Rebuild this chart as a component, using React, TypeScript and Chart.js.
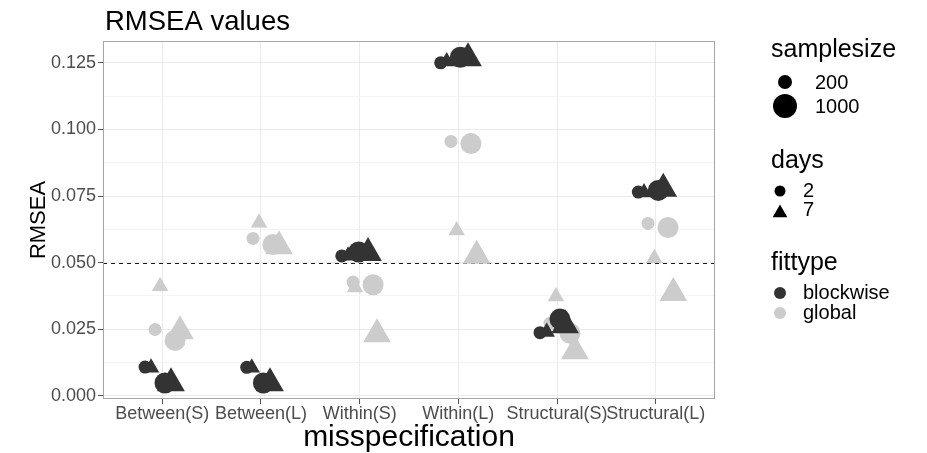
import React, { useEffect, useRef } from 'react';
import { Chart, registerables } from 'chart.js';

Chart.register(...registerables);

const FONT = '"Liberation Sans", Arial, Helvetica, sans-serif';

const categories = ['Between(S)', 'Between(L)', 'Within(S)', 'Within(L)', 'Structural(S)', 'Structural(L)'];
const yTickValues = [0, 0.0125, 0.025, 0.0375, 0.05, 0.0625, 0.075, 0.0875, 0.1, 0.1125, 0.125];
const cutoff = 0.05;

// RMSEA per misspecification, one array per fittype x samplesize x days
const blockwise200d2 = [0.0108, 0.0107, 0.0525, 0.125, 0.0237, 0.0765];
const blockwise200d7 = [0.0105, 0.0105, 0.0526, 0.1255, 0.024, 0.0763];
const blockwise1000d2 = [0.0048, 0.0048, 0.054, 0.1271, 0.0288, 0.0771];
const blockwise1000d7 = [0.0047, 0.0047, 0.0536, 0.1267, 0.0265, 0.0777];
const global200d2 = [0.0249, 0.0591, 0.0427, 0.0955, 0.0272, 0.0647];
const global200d7 = [0.0411, 0.065, 0.0407, 0.0621, 0.0373, 0.0516];
const global1000d2 = [0.0208, 0.0568, 0.0417, 0.0947, 0.0235, 0.0632];
const global1000d7 = [0.0242, 0.0561, 0.0231, 0.0526, 0.0167, 0.0386];

// horizontal jitter of each point, in category widths
const jitterB200d2 = [-0.174, -0.144, -0.181, -0.179, -0.173, -0.177];
const jitterB200d7 = [-0.113, -0.093, -0.117, -0.118, -0.105, -0.119];
const jitterB1000d2 = [0.028, 0.025, -0.01, 0.02, 0.029, 0.025];
const jitterB1000d7 = [0.089, 0.092, 0.085, 0.098, 0.081, 0.076];
const jitterG200d2 = [-0.073, -0.08, -0.067, -0.075, -0.072, -0.079];
const jitterG200d7 = [-0.022, -0.019, -0.047, -0.017, -0.011, -0.015];
const jitterG1000d2 = [0.13, 0.122, 0.136, 0.127, 0.131, 0.124];
const jitterG1000d7 = [0.18, 0.183, 0.176, 0.185, 0.181, 0.178];

type Fit = 'blockwise' | 'global';
type Series = { fit: Fit; samplesize: number; days: number; values: number[]; jitter: number[] };

const series: Series[] = [
  { fit: 'blockwise', samplesize: 200, days: 2, values: blockwise200d2, jitter: jitterB200d2 },
  { fit: 'blockwise', samplesize: 200, days: 7, values: blockwise200d7, jitter: jitterB200d7 },
  { fit: 'blockwise', samplesize: 1000, days: 2, values: blockwise1000d2, jitter: jitterB1000d2 },
  { fit: 'blockwise', samplesize: 1000, days: 7, values: blockwise1000d7, jitter: jitterB1000d7 },
  { fit: 'global', samplesize: 200, days: 2, values: global200d2, jitter: jitterG200d2 },
  { fit: 'global', samplesize: 200, days: 7, values: global200d7, jitter: jitterG200d7 },
  { fit: 'global', samplesize: 1000, days: 2, values: global1000d2, jitter: jitterG1000d2 },
  { fit: 'global', samplesize: 1000, days: 7, values: global1000d7, jitter: jitterG1000d7 },
];

const fitColor: Record<Fit, string> = { blockwise: '#333333', global: '#CCCCCC' };

function markerRadius(samplesize: number, days: number) {
  const big = samplesize === 1000;
  if (days === 7) return big ? 16 : 9.5;
  return big ? 10.5 : 6.5;
}

function drawTriangle(ctx: CanvasRenderingContext2D, x: number, y: number, r: number) {
  ctx.beginPath();
  ctx.moveTo(x, y - r);
  ctx.lineTo(x + (r * Math.sqrt(3)) / 2, y + r / 2);
  ctx.lineTo(x - (r * Math.sqrt(3)) / 2, y + r / 2);
  ctx.closePath();
  ctx.fill();
}

function drawCircle(ctx: CanvasRenderingContext2D, x: number, y: number, r: number) {
  ctx.beginPath();
  ctx.arc(x, y, r, 0, Math.PI * 2);
  ctx.fill();
}

const decorations = {
  id: 'decorations',
  beforeDatasetsDraw(chart: any) {
    const { ctx, chartArea, scales } = chart;
    const y = Math.round(scales.y.getPixelForValue(cutoff)) + 0.5;
    ctx.save();
    ctx.strokeStyle = '#1A1A1A';
    ctx.lineWidth = 1;
    ctx.setLineDash([4, 4]);
    ctx.beginPath();
    ctx.moveTo(chartArea.left, y);
    ctx.lineTo(chartArea.right, y);
    ctx.stroke();
    ctx.restore();
  },
  afterDatasetsDraw(chart: any) {
    const { ctx, chartArea } = chart;
    ctx.save();
    ctx.strokeStyle = '#A6A6A6';
    ctx.lineWidth = 1;
    ctx.strokeRect(
      Math.round(chartArea.left) + 0.5,
      Math.round(chartArea.top) + 0.5,
      Math.round(chartArea.right - chartArea.left) - 1,
      Math.round(chartArea.bottom - chartArea.top) - 1
    );
    ctx.restore();
  },
  afterDraw(chart: any) {
    const { ctx, chartArea } = chart;
    ctx.save();
    ctx.fillStyle = '#000000';
    ctx.textBaseline = 'alphabetic';

    // plot title
    ctx.textAlign = 'left';
    ctx.font = `27.5px ${FONT}`;
    ctx.fillText('RMSEA values', 105, 30);

    // x axis title
    ctx.textAlign = 'center';
    ctx.font = `30px ${FONT}`;
    ctx.fillText('misspecification', (chartArea.left + chartArea.right) / 2, 446);

    // y axis title
    ctx.save();
    ctx.translate(45, (chartArea.top + chartArea.bottom) / 2);
    ctx.rotate(-Math.PI / 2);
    ctx.font = `22px ${FONT}`;
    ctx.fillText('RMSEA', 0, 0);
    ctx.restore();

    // legend
    const lx = 771;
    ctx.textAlign = 'left';
    ctx.font = `25px ${FONT}`;
    ctx.fillText('samplesize', lx, 57);
    ctx.fillText('days', lx, 168);
    ctx.fillText('fittype', lx, 270);

    ctx.font = `20px ${FONT}`;
    ctx.textBaseline = 'middle';
    ctx.fillStyle = '#000000';
    drawCircle(ctx, 785, 82, 7);
    ctx.fillText('200', 815, 83);
    drawCircle(ctx, 785, 106, 12);
    ctx.fillText('1000', 815, 107);

    drawCircle(ctx, 780, 191, 5.5);
    ctx.fillText('2', 803, 191);
    drawTriangle(ctx, 780, 213, 8.5);
    ctx.fillText('7', 803, 210);

    ctx.fillStyle = fitColor.blockwise;
    drawCircle(ctx, 780, 293, 6);
    ctx.fillStyle = fitColor.global;
    drawCircle(ctx, 780, 313, 6);
    ctx.fillStyle = '#000000';
    ctx.fillText('blockwise', 803, 293);
    ctx.fillText('global', 803, 313);
    ctx.restore();
  },
};

export default function App() {
  const canvasRef = useRef<HTMLCanvasElement | null>(null);

  useEffect(() => {
    const canvas = canvasRef.current;
    if (!canvas) return;

    const datasets = series.map((s) => ({
      label: `${s.fit} ${s.samplesize} ${s.days}`,
      data: s.values.map((v, i) => ({ x: i + s.jitter[i], y: v })),
      pointStyle: s.days === 7 ? 'triangle' : 'circle',
      pointRadius: markerRadius(s.samplesize, s.days),
      pointBackgroundColor: fitColor[s.fit],
      pointBorderWidth: 0,
      backgroundColor: fitColor[s.fit],
      borderWidth: 0,
      showLine: false,
      clip: false as any,
      order: s.fit === 'blockwise' ? 0 : 1,
    }));

    const chart = new Chart(canvas, {
      type: 'scatter',
      data: { datasets: datasets as any },
      plugins: [decorations],
      options: {
        animation: false,
        responsive: false,
        maintainAspectRatio: false,
        events: [],
        layout: { padding: { left: 0, top: 41, right: 212, bottom: 24 } },
        plugins: {
          legend: { display: false },
          title: { display: false },
          tooltip: { enabled: false },
        },
        scales: {
          x: {
            type: 'linear',
            min: -0.6,
            max: 5.6,
            afterBuildTicks: (scale: any) => {
              scale.ticks = categories.map((_, i) => ({ value: i }));
            },
            afterFit: (scale: any) => {
              scale.height = 30;
            },
            border: { display: false },
            grid: {
              color: '#EBEBEB',
              lineWidth: 1,
              drawTicks: true,
              tickLength: 5,
              tickColor: '#555555',
            },
            ticks: {
              autoSkip: false,
              maxRotation: 0,
              minRotation: 0,
              padding: -1,
              color: '#4D4D4D',
              font: { family: FONT, size: 18 },
              callback: (value: any) => categories[Math.round(Number(value))] ?? '',
            },
          },
          y: {
            type: 'linear',
            min: -0.0012,
            max: 0.1332,
            afterBuildTicks: (scale: any) => {
              scale.ticks = yTickValues.map((v) => ({ value: v }));
            },
            afterFit: (scale: any) => {
              scale.width = 103;
            },
            border: { display: false },
            grid: {
              color: (c: any) => (c.index % 2 === 0 ? '#EBEBEB' : '#F2F2F2'),
              lineWidth: (c: any) => (c.index % 2 === 0 ? 1 : 0.8),
              drawTicks: true,
              tickLength: 5,
              tickColor: (c: any) => (c.index % 2 === 0 ? '#555555' : 'rgba(0,0,0,0)'),
            },
            ticks: {
              autoSkip: false,
              padding: 2,
              color: '#4D4D4D',
              font: { family: FONT, size: 18 },
              callback: (value: any, index: number) => (index % 2 === 0 ? Number(value).toFixed(3) : ''),
            },
          },
        },
      } as any,
    });

    return () => chart.destroy();
  }, []);

  return (
    <div style={{ position: 'fixed', left: 0, top: 0, width: 927, height: 453, background: '#FFFFFF' }}>
      <canvas ref={canvasRef} width={927} height={453} style={{ width: 927, height: 453, display: 'block' }} />
    </div>
  );
}
